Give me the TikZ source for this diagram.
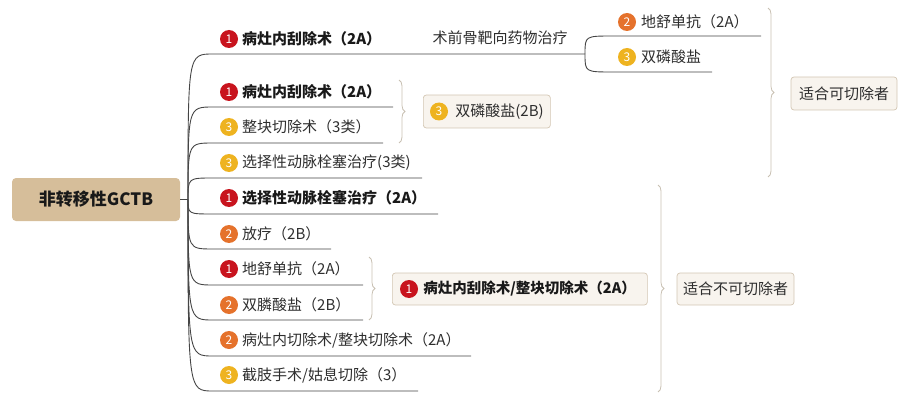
\documentclass[tikz,border=0pt]{standalone}
\usepackage{fontspec}
\setmainfont{Noto Sans CJK SC}
\usetikzlibrary{decorations.pathreplacing}
\definecolor{linec}{HTML}{454545}
\definecolor{txtc}{HTML}{2E2E2E}
\definecolor{rootfill}{HTML}{D6BE9A}
\definecolor{boxfill}{HTML}{F8F4EE}
\definecolor{boxdraw}{HTML}{D3C6B3}
\definecolor{bracec}{HTML}{C8C0B2}
\definecolor{icA}{HTML}{C8141E}
\definecolor{icB}{HTML}{E5722C}
\definecolor{icC}{HTML}{EEB320}
\tikzset{
  conn/.style={draw=linec, line width=0.9pt},
  lbl/.style={text=txtc, font=\fontsize{15}{18}\selectfont, inner sep=0pt, anchor=west},
  lblb/.style={lbl, text=black!90, font=\fontsize{15}{18}\selectfont\bfseries},
  icon/.style={circle, inner sep=0pt, minimum size=18pt, text=white, font=\fontsize{12}{12}\selectfont},
  icone/.style={icon, fill=icA},
  icontwo/.style={icon, fill=icB},
  iconthree/.style={icon, fill=icC},
  sumbox/.style={draw=boxdraw, fill=boxfill, rounded corners=3pt, line width=0.7pt, text=txtc, inner sep=0pt, font=\fontsize{15}{18}\selectfont},
  rootbox/.style={fill=rootfill, rounded corners=4pt, inner sep=0pt, minimum width=168pt, minimum height=43pt, text=black!90, font=\fontsize{17}{20}\selectfont\bfseries},
  bracedec/.style={draw=bracec, line width=0.8pt, decorate, decoration={brace, amplitude=6pt}},
}
\begin{document}
\begin{tikzpicture}[x=1pt,y=-1pt]
\useasboundingbox (0,0) rectangle (915,417);

% root
\node[rootbox] (root) at (96,199.5) {非转移性GCTB};
\coordinate (J) at (188,199.5);

% branch 1
\node[icone] (i1) at (229,39) {1};
\node[lblb] (t1) at (242,39) {病灶内刮除术（2A）};
\coordinate (u1) at (213,54);
\coordinate (f1) at (585,54);
\draw[conn] (root.east) -- (J) .. controls (J |- u1) .. (u1) -- (f1);
\node[lbl, anchor=center] (m1) at (500,38) {术前骨靶向药物治疗};
\coordinate (u1a) at (613,36); \coordinate (e1a) at (761,36);
\coordinate (u1b) at (613,72); \coordinate (e1b) at (712,72);
\draw[conn] (f1) .. controls (f1 |- u1a) .. (u1a) -- (e1a);
\draw[conn] (f1) .. controls (f1 |- u1b) .. (u1b) -- (e1b);
\node[icontwo] (i1a) at (627,22) {2};
\node[lbl] (t1a) at (641,22) {地舒单抗（2A）};
\node[iconthree] (i1b) at (627,57) {3};
\node[lbl] (t1b) at (641,57) {双磷酸盐};

% branch 2
\node[icone] (i2) at (229,92) {1};
\node[lblb] (t2) at (242,92) {病灶内刮除术（2A）};
\coordinate (u2) at (213,107); \coordinate (e2) at (393,107);
\draw[conn] (J) .. controls (J |- u2) .. (u2) -- (e2);

% branch 3
\node[iconthree] (i3) at (229,127) {3};
\node[lbl] (t3) at (242,127) {整块切除术（3类）};
\coordinate (u3) at (213,143); \coordinate (e3) at (383,143);
\draw[conn] (J) .. controls (J |- u3) .. (u3) -- (e3);

% small brace + box
\coordinate (bb1) at (399,80); \coordinate (bb2) at (399,143);
\draw[bracedec] (bb1) -- (bb2);
\node[sumbox, minimum height=33pt, anchor=west] (bx1) at (423,111.5) {\makebox[127pt][l]{\hspace*{32pt}双磷酸盐(2B)}};
\node[iconthree] (ib1) at (439,111.5) {3};

% branch 4
\node[iconthree] (i4) at (229,163) {3};
\node[lbl] (t4) at (242,163) {选择性动脉栓塞治疗(3类)};
\coordinate (u4) at (213,178); \coordinate (e4) at (422,178);
\draw[conn] (J) .. controls (J |- u4) .. (u4) -- (e4);

% branch 5
\node[icone] (i5) at (229,198) {1};
\node[lblb] (t5) at (242,198) {选择性动脉栓塞治疗（2A）};
\coordinate (u5) at (213,214); \coordinate (e5) at (438,214);
\draw[conn] (J) .. controls (J |- u5) .. (u5) -- (e5);

% branch 6
\node[icontwo] (i6) at (229,234) {2};
\node[lbl] (t6) at (242,234) {放疗（2B）};
\coordinate (u6) at (213,249); \coordinate (e6) at (331,249);
\draw[conn] (J) .. controls (J |- u6) .. (u6) -- (e6);

% branch 7
\node[icone] (i7) at (229,269) {1};
\node[lbl] (t7) at (242,269) {地舒单抗（2A）};
\coordinate (u7) at (213,285); \coordinate (e7) at (363,285);
\draw[conn] (J) .. controls (J |- u7) .. (u7) -- (e7);

% branch 8
\node[icontwo] (i8) at (229,305) {2};
\node[lbl] (t8) at (242,305) {双膦酸盐（2B）};
\coordinate (u8) at (213,320); \coordinate (e8) at (363,320);
\draw[conn] (J) .. controls (J |- u8) .. (u8) -- (e8);

% brace + box for 7-8
\coordinate (bc1) at (369,257); \coordinate (bc2) at (369,320);
\draw[bracedec] (bc1) -- (bc2);
\node[sumbox, minimum height=32pt, anchor=west, font=\fontsize{14.5}{18}\selectfont\bfseries, text=black!90] (bx2) at (392,289) {\makebox[255pt][l]{\hspace*{31pt}病灶内刮除术/整块切除术（2A）}};
\node[icone] (ib2) at (409,289) {1};

% branch 9
\node[icontwo] (i9) at (229,340) {2};
\node[lbl] (t9) at (242,340) {病灶内切除术/整块切除术（2A）};
\coordinate (u9) at (213,356); \coordinate (e9) at (471,356);
\draw[conn] (J) .. controls (J |- u9) .. (u9) -- (e9);

% branch 10
\node[iconthree] (i10) at (229,375) {3};
\node[lbl] (t10) at (242,375) {截肢手术/姑息切除（3）};
\coordinate (u10) at (213,391); \coordinate (e10) at (418,391);
\draw[conn] (J) .. controls (J |- u10) .. (u10) -- (e10);

% big braces + summary boxes
\coordinate (bd1) at (658,185); \coordinate (bd2) at (658,392);
\draw[bracedec] (bd1) -- (bd2);
\node[sumbox, minimum width=117pt, minimum height=32pt] (bx3) at (735.5,289) {适合不可切除者};

\coordinate (ba1) at (768,8); \coordinate (ba2) at (768,177);
\draw[bracedec] (ba1) -- (ba2);
\node[sumbox, minimum width=106pt, minimum height=33pt] (bx4) at (844,93.5) {适合可切除者};
\end{tikzpicture}
\end{document}
